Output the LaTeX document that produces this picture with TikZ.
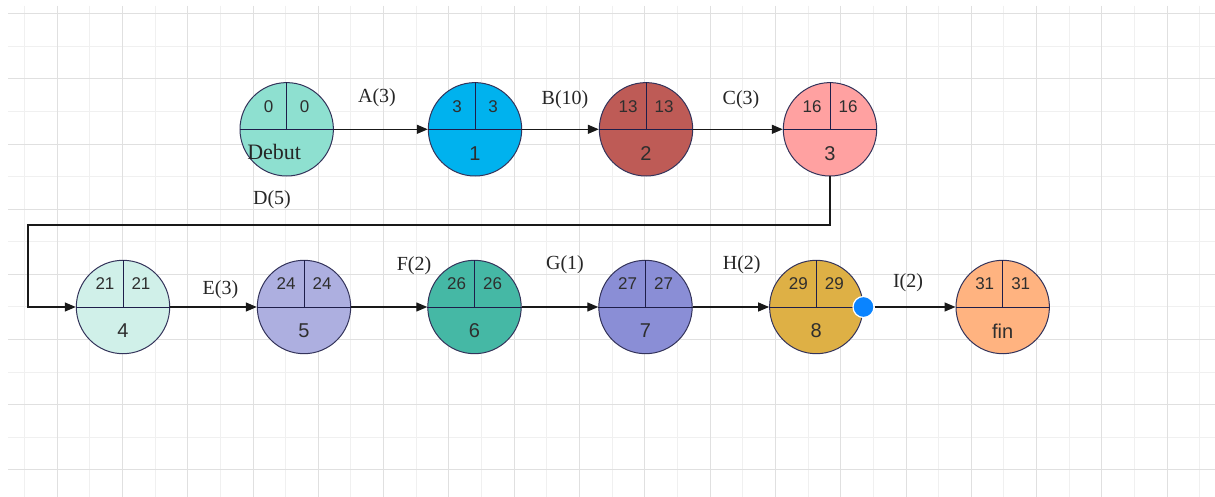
\documentclass[tikz,border=0pt]{standalone}
\usepackage{fontspec}
\setmainfont{Liberation Serif}
\newfontfamily\arialf{Liberation Sans}
\usetikzlibrary{arrows.meta,calc}
\definecolor{gmaj}{HTML}{E0E0E0}
\definecolor{gmin}{HTML}{F0F0F0}
\definecolor{outl}{HTML}{33335A}
\definecolor{divl}{HTML}{1E1E4A}
\definecolor{txt}{HTML}{2E2E2E}
\definecolor{c0}{HTML}{8EE0D0}
\definecolor{c1}{HTML}{00B2EE}
\definecolor{c2}{HTML}{BE5B56}
\definecolor{c3}{HTML}{FFA1A1}
\definecolor{c4}{HTML}{D0F0E9}
\definecolor{c5}{HTML}{ADAFE0}
\definecolor{c6}{HTML}{45B8A5}
\definecolor{c7}{HTML}{8A8ED6}
\definecolor{c8}{HTML}{DEB045}
\definecolor{c9}{HTML}{FFB380}
\definecolor{dotblue}{HTML}{0A84FF}
\tikzset{
  evt/.style={circle,draw=outl,line width=1pt,minimum size=93.4pt,inner sep=0pt},
  divider/.style={draw=divl,line width=1pt},
  topnum/.style={font=\arialf\fontsize{17}{17}\selectfont,text=txt,inner sep=0pt},
  botlab/.style={font=\arialf\fontsize{20}{20}\selectfont,text=txt,inner sep=0pt},
  edgelab/.style={font=\fontsize{20}{20}\selectfont,text=black!85,inner sep=0pt},
  conn/.style={draw=black!90,line width=1.3pt,-{Triangle[length=11pt,width=9pt]}},
  gridmaj/.style={draw=gmaj,line width=1.6pt},
  gridmin/.style={draw=gmin,line width=1.6pt},
}
\newcommand{\pertnode}[5]{%
  \node[evt,fill=#4] (#1) at (#2,#3) {};
  \draw[divider] (#1.west) -- (#1.east);
  \draw[divider] (#1.center) -- (#1.north);
  \node[topnum] (#1-l) at ($(#1)+(-18,-23)$) {#5};
  \node[topnum] (#1-r) at ($(#1)+(18,-23)$) {#5};
}
\begin{document}
\begin{tikzpicture}[x=1pt,y=-1pt]
\useasboundingbox (0,0) rectangle (1215,497);
\fill[white] (0,0) rectangle (1215,497);
% grid: minor lines
\foreach \k in {0,2,...,36}{
  \draw[gridmin] ({round(24+32.65*\k)+0.5},6) -- ({round(24+32.65*\k)+0.5},497);
}
\foreach \k in {1,3,...,13}{
  \draw[gridmin] (8,{round(13.3+32.57*\k)+0.5}) -- (1215,{round(13.3+32.57*\k)+0.5});
}
% grid: major lines
\foreach \k in {1,3,...,35}{
  \draw[gridmaj] ({round(24+32.65*\k)+0.5},6) -- ({round(24+32.65*\k)+0.5},497);
}
\foreach \k in {0,2,...,14}{
  \draw[gridmaj] (8,{round(13.3+32.57*\k)+0.5}) -- (1215,{round(13.3+32.57*\k)+0.5});
}
% nodes
\pertnode{n0}{286.7}{129.3}{c0}{0}
\node[edgelab,font=\fontsize{22}{22}\selectfont] (n0-b) at ($(n0)+(-12.5,23)$) {Debut};
\pertnode{n1}{475}{129.3}{c1}{3}
\node[botlab] (n1-b) at ($(n1)+(0,24)$) {1};
\pertnode{n2}{646}{129.3}{c2}{13}
\node[botlab] (n2-b) at ($(n2)+(0,24)$) {2};
\pertnode{n3}{830}{129.3}{c3}{16}
\node[botlab] (n3-b) at ($(n3)+(0,24)$) {3};
\pertnode{n4}{123}{307}{c4}{21}
\node[botlab] (n4-b) at ($(n4)+(0,24)$) {4};
\pertnode{n5}{304}{307}{c5}{24}
\node[botlab] (n5-b) at ($(n5)+(0,24)$) {5};
\pertnode{n6}{474.5}{307}{c6}{26}
\node[botlab] (n6-b) at ($(n6)+(0,24)$) {6};
\pertnode{n7}{645.5}{307}{c7}{27}
\node[botlab] (n7-b) at ($(n7)+(0,24)$) {7};
\pertnode{n8}{816.3}{307}{c8}{29}
\node[botlab] (n8-b) at ($(n8)+(0,24)$) {8};
\pertnode{n9}{1002.7}{307}{c9}{31}
\node[botlab] (n9-b) at ($(n9)+(0,24)$) {fin};
% connectors
\draw[conn] (n0.east) -- (n1.west);
\draw[conn] (n1.east) -- (n2.west);
\draw[conn] (n2.east) -- (n3.west);
\coordinate (dc) at (28,225);
\draw[conn] (n3.south) |- (dc) |- (n4.west);
\draw[conn] (n4.east) -- (n5.west);
\draw[conn] (n5.east) -- (n6.west);
\draw[conn] (n6.east) -- (n7.west);
\draw[conn] (n7.east) -- (n8.west);
\node[circle,fill=dotblue,draw=white,line width=1.2pt,minimum size=21pt,inner sep=0pt] (dot) at (n8.east) {};
\draw[conn] (dot.east) -- (n9.west);
% edge labels
\node[edgelab] (lA) at (377,98) {A(3)};
\node[edgelab] (lB) at (565,100) {B(10)};
\node[edgelab] (lC) at (741,100) {C(3)};
\node[edgelab] (lD) at (272,200) {D(5)};
\node[edgelab] (lE) at (220.5,290) {E(3)};
\node[edgelab] (lF) at (414,266) {F(2)};
\node[edgelab] (lG) at (565,265) {G(1)};
\node[edgelab] (lH) at (741.7,265) {H(2)};
\node[edgelab] (lI) at (908,283) {I(2)};
\end{tikzpicture}
\end{document}
